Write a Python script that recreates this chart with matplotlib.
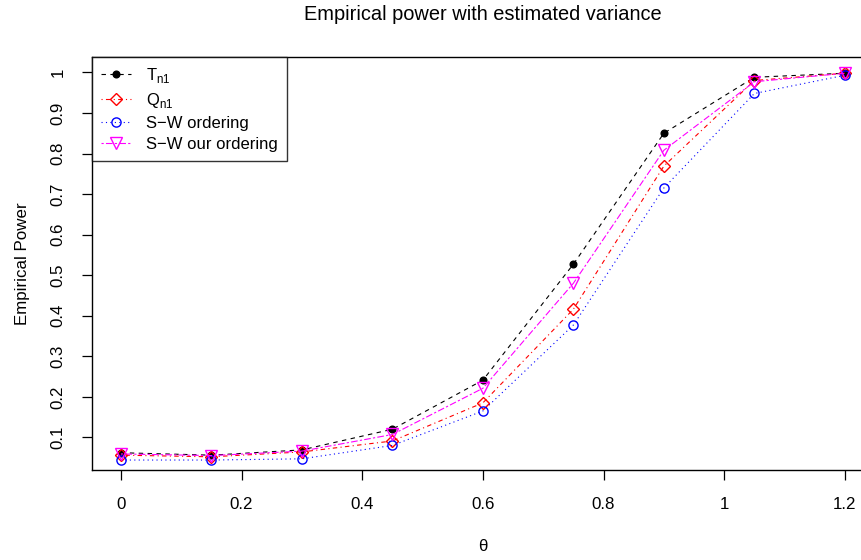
import matplotlib
matplotlib.use("Agg")
import matplotlib.pyplot as plt
import numpy as np

plt.rcParams['font.family'] = ['Liberation Sans', 'DejaVu Sans']

theta = [0, 0.15, 0.3, 0.45, 0.6, 0.75, 0.9, 1.05, 1.2]
t_n1 = [0.062, 0.056, 0.069, 0.120, 0.241, 0.527, 0.850, 0.988, 0.998]
q_n1 = [0.056, 0.052, 0.064, 0.091, 0.185, 0.416, 0.769, 0.980, 0.998]
sw_ord = [0.044, 0.044, 0.047, 0.080, 0.165, 0.377, 0.715, 0.948, 0.993]
sw_our = [0.059, 0.055, 0.066, 0.107, 0.221, 0.480, 0.808, 0.977, 0.998]

xticks = [0, 0.2, 0.4, 0.6, 0.8, 1.0, 1.2]
xticklabels = ['0', '0.2', '0.4', '0.6', '0.8', '1', '1.2']
yticks = [0.1, 0.2, 0.3, 0.4, 0.5, 0.6, 0.7, 0.8, 0.9, 1.0]
yticklabels = ['0.1', '0.2', '0.3', '0.4', '0.5', '0.6', '0.7', '0.8', '0.9', '1']

fig = plt.figure(figsize=(8.62, 5.6), dpi=100)
ax = fig.add_axes([0.1067, 0.1607, 0.907, 0.7375])

lw = 0.8
ax.plot(theta, t_n1, color='black', linestyle=(0, (4, 4)), linewidth=lw,
        marker='o', markersize=4.8, label=r'T$_{\mathregular{n1}}$')
ax.plot(theta, q_n1, color='red', linestyle=(0, (1, 3, 4, 3)), linewidth=lw,
        marker='D', markersize=6.5, markerfacecolor='none', markeredgewidth=1,
        label=r'Q$_{\mathregular{n1}}$')
ax.plot(theta, sw_ord, color='blue', linestyle=(0, (1, 3)), linewidth=lw,
        marker='o', markersize=6.6, markerfacecolor='none', markeredgewidth=1,
        label='S\u2212W ordering')
ax.plot(theta, sw_our, color='magenta', linestyle=(0, (2, 2, 6, 2)), linewidth=lw,
        marker='v', markersize=8, markerfacecolor='none', markeredgewidth=1,
        label='S\u2212W our ordering')

ax.set_xlim(-0.048, 1.248)
ax.set_ylim(0.0194, 1.038)
ax.set_xticks(xticks)
ax.set_xticklabels(xticklabels, fontsize=12.2)
ax.set_yticks(yticks)
ax.set_yticklabels(yticklabels, fontsize=12.2, rotation=90, va='center')
ax.tick_params(direction='out', length=7.2, width=0.9, pad=12)
for s in ax.spines.values():
    s.set_linewidth(1)

ax.set_xlabel('\u03b8', fontsize=12.2, va='center')
ax.xaxis.set_label_coords(0.5, -0.186)
ax.set_ylabel('Empirical Power', fontsize=12.2, va='center')
ax.yaxis.set_label_coords(-0.089, 0.5)
fig.text(0.5603, 0.975, 'Empirical power with estimated variance',
         ha='center', va='center', fontsize=14.4)

leg = ax.legend(loc='upper left', fontsize=12, frameon=True, fancybox=False,
                edgecolor='black', borderaxespad=0, handlelength=1.8,
                borderpad=0.55, labelspacing=0.36, handletextpad=0.9)
leg.get_frame().set_linewidth(1)

fig.savefig('out.png', dpi=100)
